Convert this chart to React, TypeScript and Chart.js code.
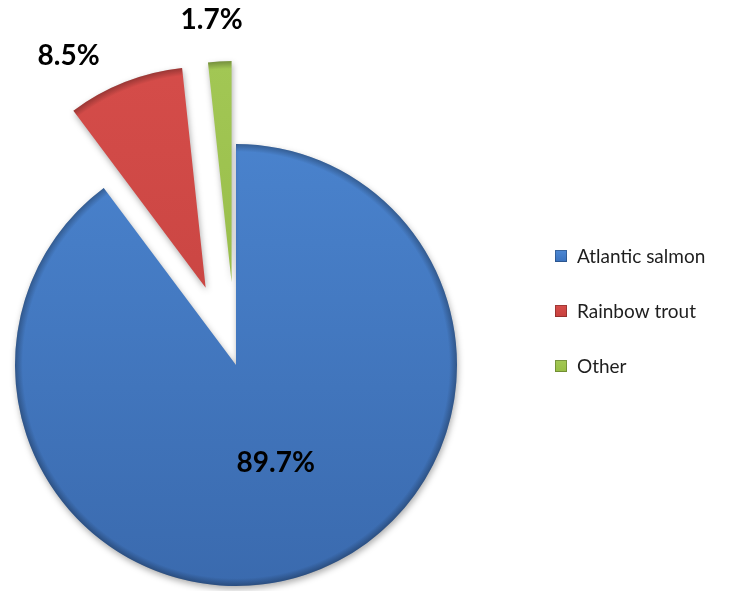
import React, { useEffect, useRef } from 'react';
import { Chart, registerables } from 'chart.js';

Chart.register(...registerables);

// ---- data ----
const categories = ['Atlantic salmon', 'Rainbow trout', 'Other'];
const shares = [89.7, 8.5, 1.7];
const valueLabels = shares.map((v) => `${v.toFixed(1)}%`);

// ---- styling ----
const explodeDistance = [0, 83, 83];
const colorTop = ['#4D88D4', '#D64D4A', '#A3C855'];
const colorBottom = ['#3A6AAE', '#BD3E3B', '#8DB13F'];
const legendColors = ['#3A72BE', '#C8403D', '#97BE44'];
const labelRadius = [0.48, 1.22, 1.19];
const labelTurnDeg = [-3.6, -9.1, -1.3];

const explodePlugin = {
  id: 'explodeSlices',
  afterDatasetsUpdate(chart: any) {
    const meta = chart.getDatasetMeta(0);
    meta.data.forEach((el: any, i: number) => {
      const d = explodeDistance[i] || 0;
      const mid = (el.startAngle + el.endAngle) / 2;
      el.x += Math.cos(mid) * d;
      el.y += Math.sin(mid) * d;
    });
  },
};

const decorPlugin = {
  id: 'decor',
  beforeDatasetsDraw(chart: any) {
    const ctx = chart.ctx;
    ctx.save();
    ctx.shadowColor = 'rgba(0,0,0,0.32)';
    ctx.shadowBlur = 6;
    ctx.shadowOffsetX = 1;
    ctx.shadowOffsetY = 3;
  },
  afterDatasetsDraw(chart: any) {
    const ctx = chart.ctx;
    ctx.restore();
    const meta = chart.getDatasetMeta(0);
    // soft rim shading on each slice
    meta.data.forEach((el: any) => {
      const { x, y, outerRadius: r, startAngle, endAngle } = el;
      ctx.save();
      ctx.beginPath();
      ctx.moveTo(x, y);
      ctx.arc(x, y, r, startAngle, endAngle);
      ctx.closePath();
      ctx.clip();
      const g = ctx.createRadialGradient(x, y, 0, x, y, r);
      g.addColorStop(0, 'rgba(0,0,0,0)');
      g.addColorStop(0.965, 'rgba(0,0,0,0)');
      g.addColorStop(1, 'rgba(0,0,0,0.28)');
      ctx.fillStyle = g;
      ctx.fillRect(x - r, y - r, 2 * r, 2 * r);
      ctx.restore();
    });
    // value labels
    ctx.save();
    ctx.font = 'bold 28px Lato, "DejaVu Sans", sans-serif';
    ctx.fillStyle = '#000000';
    ctx.textAlign = 'center';
    ctx.textBaseline = 'middle';
    meta.data.forEach((el: any, i: number) => {
      const mid = (el.startAngle + el.endAngle) / 2 + (labelTurnDeg[i] * Math.PI) / 180;
      const dist = labelRadius[i] * el.outerRadius;
      ctx.fillText(valueLabels[i], el.x + Math.cos(mid) * dist, el.y + Math.sin(mid) * dist);
    });
    ctx.restore();
  },
  afterDraw(chart: any) {
    const ctx = chart.ctx;
    const labels: string[] = chart.data.labels;
    const left = chart.chartArea.right + 83;
    const top = 256;
    const gap = 55;
    const box = 12;
    ctx.save();
    ctx.font = '19px Lato, "DejaVu Sans", sans-serif';
    ctx.textBaseline = 'middle';
    ctx.textAlign = 'left';
    labels.forEach((label, i) => {
      const cy = top + i * gap;
      const g = ctx.createLinearGradient(0, cy - box / 2, 0, cy + box / 2);
      g.addColorStop(0, colorTop[i]);
      g.addColorStop(1, legendColors[i]);
      ctx.fillStyle = g;
      ctx.fillRect(left, cy - box / 2, box, box);
      ctx.strokeStyle = 'rgba(0,0,0,0.25)';
      ctx.lineWidth = 1;
      ctx.strokeRect(left + 0.5, cy - box / 2 + 0.5, box - 1, box - 1);
      ctx.fillStyle = '#1E1E1E';
      ctx.fillText(label, left + 22, cy + 1);
    });
    ctx.restore();
  },
};

export default function App() {
  const canvasRef = useRef<HTMLCanvasElement | null>(null);

  useEffect(() => {
    const canvas = canvasRef.current;
    if (!canvas) return;
    const chart = new Chart(canvas, {
      type: 'pie',
      data: {
        labels: categories,
        datasets: [
          {
            data: shares,
            backgroundColor: (c: any) => {
              const i = c.dataIndex ?? 0;
              const g = c.chart.ctx.createLinearGradient(0, 40, 0, 590);
              g.addColorStop(0, colorTop[i]);
              g.addColorStop(1, colorBottom[i]);
              return g;
            },
            borderWidth: 0,
          },
        ],
      },
      options: {
        responsive: false,
        animation: false,
        events: [],
        radius: 221,
        layout: { padding: { left: 0, right: 264, top: 139, bottom: 0 } },
        plugins: {
          legend: { display: false },
          tooltip: { enabled: false },
        },
      } as any,
      plugins: [explodePlugin, decorPlugin],
    });
    let alive = true;
    if ((document as any).fonts) {
      Promise.all([
        (document as any).fonts.load('bold 28px Lato'),
        (document as any).fonts.load('19px Lato'),
      ]).then(() => {
        if (alive) chart.update();
      });
    }
    return () => {
      alive = false;
      chart.destroy();
    };
  }, []);

  return (
    <div style={{ position: 'absolute', left: 0, top: 0, width: 736, height: 591, background: '#ffffff' }}>
      <canvas ref={canvasRef} width={736} height={591} style={{ display: 'block' }} />
    </div>
  );
}
